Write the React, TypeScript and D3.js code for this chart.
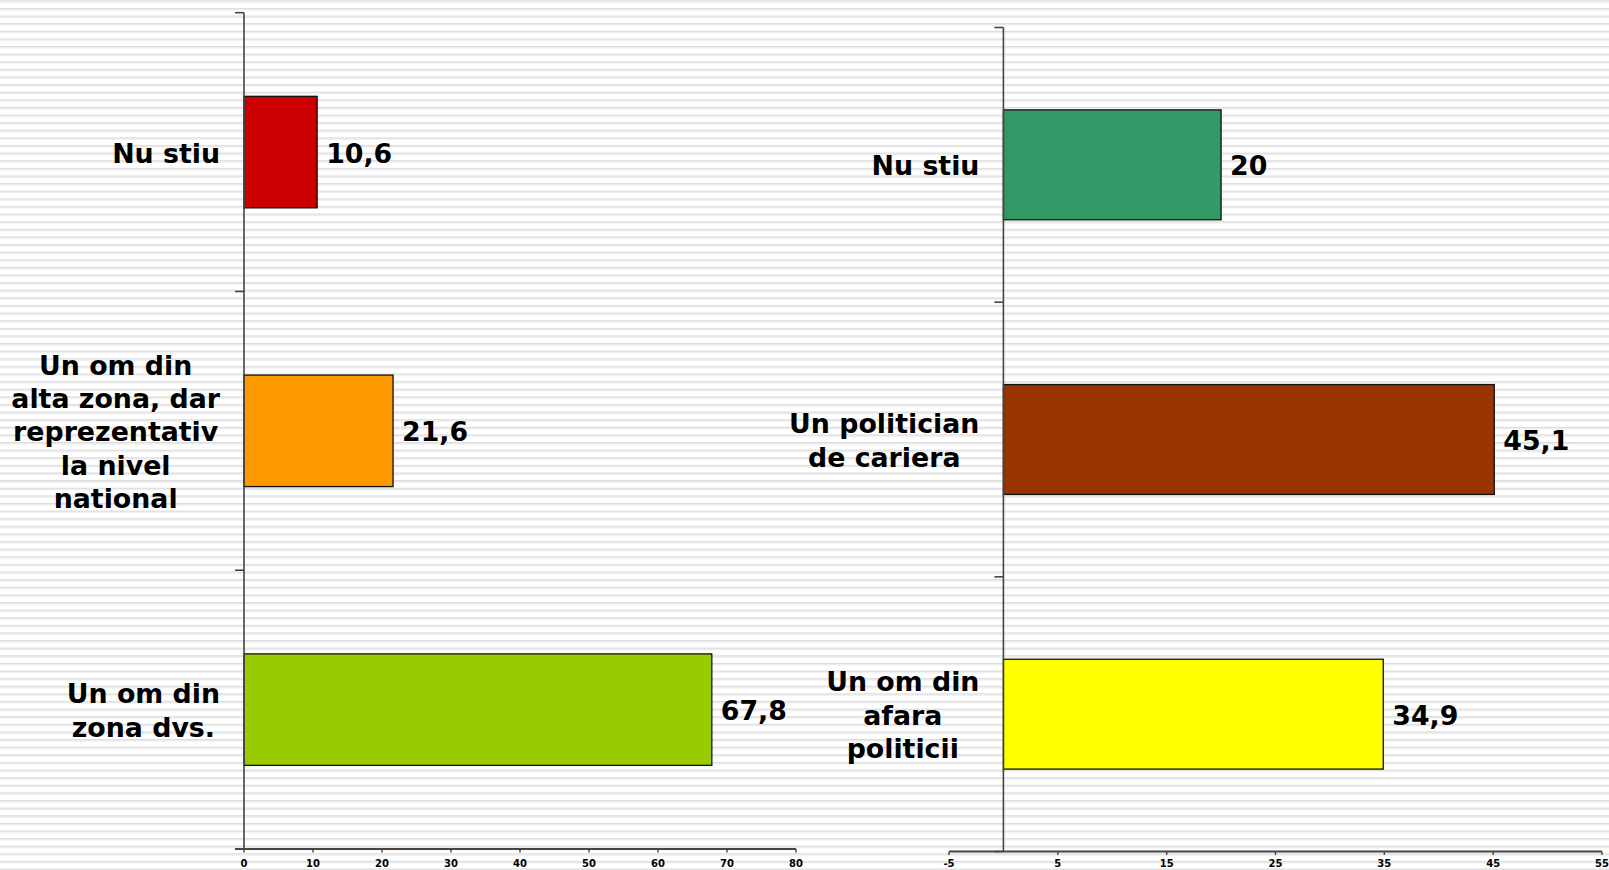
import React, { useEffect, useRef } from "react";
import * as d3 from "d3";

const W = 1609;
const H = 870;

const leftCategories = ["Nu stiu", "Un om din\nalta zona, dar\nreprezentativ\nla nivel\nnational", "Un om din\nzona dvs."];
const leftValues = [10.6, 21.6, 67.8];
const leftLabels = ["10,6", "21,6", "67,8"];
const leftColors = ["#CC0000", "#FF9900", "#99CC00"];
const leftTicks = [0, 10, 20, 30, 40, 50, 60, 70, 80];

const rightCategories = ["Nu stiu", "Un politician\nde cariera", "Un om din\nafara\npoliticii"];
const rightValues = [20, 45.1, 34.9];
const rightLabels = ["20", "45,1", "34,9"];
const rightColors = ["#339966", "#993300", "#FFFF00"];
const rightTicks = [-5, 5, 15, 25, 35, 45, 55];

const FONT = "'DejaVu Sans', Verdana, sans-serif";

type Panel = {
  cats: string[];
  vals: number[];
  labels: string[];
  colors: string[];
  ticks: number[];
  domain: [number, number];
  xRange: [number, number];
  yTop: number;
  yBottom: number;
  axisLeftExtend: number;
};

function drawPanel(g: d3.Selection<SVGGElement, unknown, null, undefined>, p: Panel) {
  const x = d3.scaleLinear().domain(p.domain).range(p.xRange);
  const y = d3.scaleBand<string>().domain(p.cats).range([p.yTop, p.yBottom]).padding(0);
  const axisColor = "#444";
  const x0 = x(0);
  const fs = 26.8;

  const barFrac = 0.4;
  p.cats.forEach((c, i) => {
    const bw = y.bandwidth();
    const cy = (y(c) as number) + bw / 2;
    const bh = bw * barFrac;
    g.append("rect")
      .attr("x", x0)
      .attr("y", cy - bh / 2)
      .attr("width", x(p.vals[i]) - x0)
      .attr("height", bh)
      .attr("fill", p.colors[i])
      .attr("stroke", "#111")
      .attr("stroke-width", 1.3);
    g.append("text")
      .attr("x", x(p.vals[i]) + 9)
      .attr("y", cy + 10.5)
      .attr("font-family", FONT)
      .attr("font-weight", "bold")
      .attr("font-size", fs)
      .attr("fill", "#000")
      .text(p.labels[i]);

    const lines = c.split("\n");
    const lh = 33.4;
    const rightEdge = x0 - 24;
    const tg = g.append("g");
    const texts = lines.map((ln, j) =>
      tg.append("text")
        .attr("y", cy + 10.5 + (j - (lines.length - 1) / 2) * lh)
        .attr("font-family", FONT)
        .attr("font-weight", "bold")
        .attr("font-size", fs)
        .attr("text-anchor", "middle")
        .attr("fill", "#000")
        .text(ln)
    );
    const maxW = d3.max(texts, (t) => (t.node() as SVGTextElement).getComputedTextLength()) || 0;
    texts.forEach((t) => t.attr("x", rightEdge - maxW / 2));
  });

  g.append("line")
    .attr("x1", x0).attr("x2", x0)
    .attr("y1", p.yTop).attr("y2", p.yBottom)
    .attr("stroke", axisColor).attr("stroke-width", 1.6);
  const catTicks = [...p.cats.map((c) => y(c) as number), p.yBottom];
  catTicks.forEach((ty) => {
    g.append("line")
      .attr("x1", x0 - 9).attr("x2", x0)
      .attr("y1", ty).attr("y2", ty)
      .attr("stroke", axisColor).attr("stroke-width", 1.6);
  });

  g.append("line")
    .attr("x1", Math.min(p.xRange[0], x0 - p.axisLeftExtend)).attr("x2", p.xRange[1])
    .attr("y1", p.yBottom).attr("y2", p.yBottom)
    .attr("stroke", axisColor).attr("stroke-width", 1.8);
  p.ticks.forEach((t) => {
    g.append("line")
      .attr("x1", x(t)).attr("x2", x(t))
      .attr("y1", p.yBottom).attr("y2", p.yBottom + 3.5)
      .attr("stroke", axisColor).attr("stroke-width", 1.4);
    g.append("text")
      .attr("x", x(t))
      .attr("y", 866.5)
      .attr("font-family", FONT)
      .attr("font-weight", "bold")
      .attr("font-size", 10)
      .attr("text-anchor", "middle")
      .attr("fill", "#000")
      .text(String(t));
  });
}

export default function App() {
  const ref = useRef<SVGSVGElement>(null);
  useEffect(() => {
    document.body.style.margin = "0";
    document.body.style.overflow = "hidden";
    const svg = d3.select(ref.current as SVGSVGElement);
    svg.selectAll("*").remove();
    const defs = svg.append("defs");
    const pat = defs.append("pattern")
      .attr("id", "stripes")
      .attr("patternUnits", "userSpaceOnUse")
      .attr("width", 20)
      .attr("height", 7.616)
      .attr("y", 0.3);
    pat.append("rect").attr("width", 20).attr("height", 7.616).attr("fill", "#ffffff");
    pat.append("rect").attr("width", 20).attr("height", 1.2).attr("fill", "#dcdcdc");
    pat.append("rect").attr("y", 1.2).attr("width", 20).attr("height", 1.2).attr("fill", "#e8e8e8");
    svg.append("rect").attr("width", W).attr("height", H).attr("fill", "url(#stripes)");

    const gl = svg.append("g");
    drawPanel(gl, {
      cats: leftCategories,
      vals: leftValues,
      labels: leftLabels,
      colors: leftColors,
      ticks: leftTicks,
      domain: [0, 80],
      xRange: [244, 796],
      yTop: 12.7,
      yBottom: 849,
      axisLeftExtend: 9,
    });
    const gr = svg.append("g");
    drawPanel(gr, {
      cats: rightCategories,
      vals: rightValues,
      labels: rightLabels,
      colors: rightColors,
      ticks: rightTicks,
      domain: [-5, 55],
      xRange: [949, 1602],
      yTop: 27.5,
      yBottom: 851.5,
      axisLeftExtend: 0,
    });
  }, []);
  return (
    <svg
      ref={ref}
      width={W}
      height={H}
      style={{ position: "absolute", left: 0, top: 0, display: "block" }}
    />
  );
}
